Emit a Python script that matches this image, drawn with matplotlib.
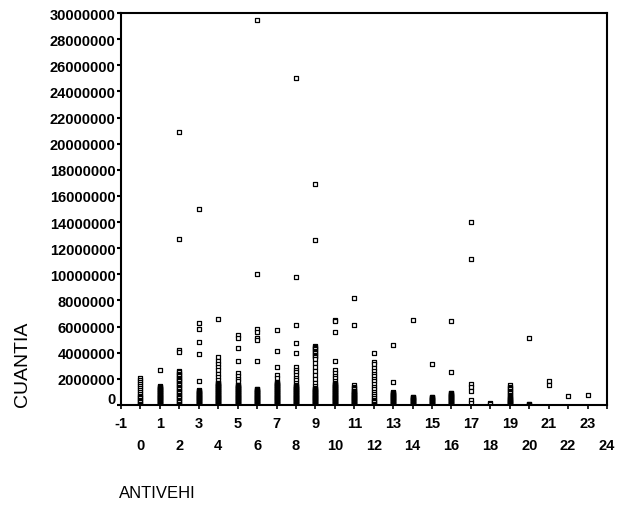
import matplotlib
matplotlib.use("Agg")
import matplotlib.pyplot as plt
import matplotlib.transforms as mtransforms

plt.rcParams['font.family'] = ['Liberation Sans', 'DejaVu Sans']

SCALE = 1_000_000  # values below are in millions of CUANTIA

cuantia_0 = [2.05, 1.9, 1.75, 1.6, 1.45, 1.3, 1.15, 1.0, 0.85, 0.7, 0.6, 0.5, 0.4, 0.3, 0.2, 0.1, 0.0]
cuantia_1 = [2.65, 1.45, 1.4, 1.35, 1.3, 1.25, 1.2, 1.15, 1.1, 1.05, 1.0, 0.95, 0.9, 0.85, 0.8, 0.75, 0.7,
             0.65, 0.6, 0.55, 0.5, 0.45, 0.4, 0.35, 0.3, 0.25, 0.2, 0.15, 0.1, 0.05, 0.0]
cuantia_2 = [20.9, 12.7, 4.2, 4.05, 2.6, 2.5, 2.4, 2.3, 2.2, 2.1, 2.0, 1.9, 1.8, 1.7, 1.6, 1.5, 1.4, 1.3,
             1.2, 1.1, 1.0, 0.9, 0.8, 0.7, 0.6, 0.5, 0.4, 0.3, 0.2, 0.1, 0.0]
cuantia_3 = [15.0, 6.3, 5.8, 4.8, 3.9, 1.8, 1.15, 1.1, 1.05, 1.0, 0.95, 0.9, 0.85, 0.8, 0.75, 0.7, 0.65,
             0.6, 0.55, 0.5, 0.45, 0.4, 0.35, 0.3, 0.25, 0.2, 0.15, 0.1, 0.05, 0.0]
cuantia_4 = [6.6, 3.65, 3.4, 3.15, 2.9, 2.65, 2.4, 2.15, 1.9, 1.7, 1.65, 1.6, 1.55, 1.5, 1.45, 1.4, 1.35,
             1.3, 1.25, 1.2, 1.15, 1.1, 1.05, 1.0, 0.95, 0.9, 0.85, 0.8, 0.75, 0.7, 0.65, 0.6, 0.55, 0.5,
             0.45, 0.4, 0.35, 0.3, 0.25, 0.2, 0.15, 0.1, 0.05, 0.0]
cuantia_5 = [5.35, 5.1, 4.4, 3.4, 2.45, 2.2, 2.0, 1.8, 1.55, 1.5, 1.45, 1.4, 1.35, 1.3, 1.25, 1.2, 1.15,
             1.1, 1.05, 1.0, 0.95, 0.9, 0.85, 0.8, 0.75, 0.7, 0.65, 0.6, 0.55, 0.5, 0.45, 0.4, 0.35, 0.3,
             0.25, 0.2, 0.15, 0.1, 0.05, 0.0]
cuantia_6 = [29.5, 10.0, 5.8, 5.6, 5.15, 5.0, 3.4, 1.25, 1.2, 1.15, 1.1, 1.05, 1.0, 0.95, 0.9, 0.85, 0.8,
             0.75, 0.7, 0.65, 0.6, 0.55, 0.5, 0.45, 0.4, 0.35, 0.3, 0.25, 0.2, 0.15, 0.1, 0.05, 0.0]
cuantia_7 = [5.75, 4.15, 2.9, 2.3, 2.1, 1.75, 1.7, 1.65, 1.6, 1.55, 1.5, 1.45, 1.4, 1.35, 1.3, 1.25, 1.2,
             1.15, 1.1, 1.05, 1.0, 0.95, 0.9, 0.85, 0.8, 0.75, 0.7, 0.65, 0.6, 0.55, 0.5, 0.45, 0.4, 0.35,
             0.3, 0.25, 0.2, 0.15, 0.1, 0.05, 0.0]
cuantia_8 = [25.0, 9.8, 6.1, 4.75, 4.0, 2.9, 2.7, 2.5, 2.3, 2.1, 1.9, 1.7, 1.5, 1.45, 1.4, 1.35, 1.3, 1.25,
             1.2, 1.15, 1.1, 1.05, 1.0, 0.95, 0.9, 0.85, 0.8, 0.75, 0.7, 0.65, 0.6, 0.55, 0.5, 0.45, 0.4,
             0.35, 0.3, 0.25, 0.2, 0.15, 0.1, 0.05, 0.0]
cuantia_9 = [16.9, 12.6, 4.55, 4.45, 4.35, 4.25, 4.15, 4.05, 3.95, 3.85, 3.75, 3.65, 3.55, 3.2, 2.9, 2.6,
             2.3, 2.0, 1.7, 1.45, 1.3, 1.25, 1.2, 1.15, 1.1, 1.05, 1.0, 0.95, 0.9, 0.85, 0.8, 0.75, 0.7,
             0.65, 0.6, 0.55, 0.5, 0.45, 0.4, 0.35, 0.3, 0.25, 0.2, 0.15, 0.1, 0.05, 0.0]
cuantia_10 = [6.5, 6.4, 5.55, 3.4, 2.65, 2.45, 2.25, 2.05, 1.85, 1.65, 1.6, 1.55, 1.5, 1.45, 1.4, 1.35,
              1.3, 1.25, 1.2, 1.15, 1.1, 1.05, 1.0, 0.95, 0.9, 0.85, 0.8, 0.75, 0.7, 0.65, 0.6, 0.55, 0.5,
              0.45, 0.4, 0.35, 0.3, 0.25, 0.2, 0.15, 0.1, 0.05, 0.0]
cuantia_11 = [8.2, 6.1, 1.5, 1.4, 1.3, 1.2, 1.1, 1.05, 1.0, 0.95, 0.9, 0.85, 0.8, 0.75, 0.7, 0.65, 0.6,
              0.55, 0.5, 0.45, 0.4, 0.35, 0.3, 0.25, 0.2, 0.15, 0.1, 0.05, 0.0]
cuantia_12 = [4.0, 3.3, 3.1, 2.85, 2.6, 2.4, 2.2, 2.0, 1.8, 1.6, 1.4, 1.2, 1.0, 0.85, 0.7, 0.55, 0.4, 0.3,
              0.2, 0.1, 0.0]
cuantia_13 = [4.6, 1.75, 1.0, 0.95, 0.9, 0.85, 0.8, 0.75, 0.7, 0.65, 0.6, 0.55, 0.5, 0.45, 0.4, 0.35,
              0.3, 0.25, 0.2, 0.15, 0.1, 0.05, 0.0]
cuantia_14 = [6.5, 0.65, 0.6, 0.55, 0.5, 0.45, 0.4, 0.35, 0.3, 0.25, 0.2, 0.15, 0.1, 0.05, 0.0]
cuantia_15 = [3.15, 0.65, 0.6, 0.55, 0.5, 0.45, 0.4, 0.35, 0.3, 0.25, 0.2, 0.15, 0.1, 0.05, 0.0]
cuantia_16 = [6.4, 2.5, 0.95, 0.9, 0.85, 0.8, 0.75, 0.7, 0.65, 0.6, 0.55, 0.5, 0.45, 0.4, 0.35, 0.3,
              0.25, 0.2, 0.15, 0.1, 0.05, 0.0]
cuantia_17 = [14.0, 11.2, 1.6, 1.4, 1.05, 0.35, 0.15]
cuantia_18 = [0.15, 0.05]
cuantia_19 = [1.5, 1.4, 1.3, 1.2, 1.1, 1.0, 0.9, 0.8, 0.7, 0.6, 0.5, 0.45, 0.4, 0.35, 0.3, 0.25, 0.2,
              0.15, 0.1, 0.05, 0.0]
cuantia_20 = [5.15, 0.1, 0.05, 0.0]
cuantia_21 = [1.85, 1.5]
cuantia_22 = [0.67]
cuantia_23 = [0.79]

antivehi = list(range(24))
columns = [cuantia_0, cuantia_1, cuantia_2, cuantia_3, cuantia_4, cuantia_5, cuantia_6, cuantia_7,
           cuantia_8, cuantia_9, cuantia_10, cuantia_11, cuantia_12, cuantia_13, cuantia_14, cuantia_15,
           cuantia_16, cuantia_17, cuantia_18, cuantia_19, cuantia_20, cuantia_21, cuantia_22, cuantia_23]

x_odd_ticks = list(range(-1, 24, 2))
x_even_ticks = list(range(0, 25, 2))
y_ticks = list(range(0, 30_000_001, 2_000_000))

fig = plt.figure(figsize=(6.17, 5.06), dpi=100)
ax = fig.add_axes([121 / 617, 1 - 406 / 506, (607 - 121) / 617, (406 - 14) / 506])

xs, ys = [], []
for xv, col in zip(antivehi, columns):
    for v in col:
        xs.append(xv)
        ys.append(v * SCALE)

ax.scatter(xs, ys, marker='s', s=11, facecolors='white', edgecolors='black', linewidths=0.9, zorder=3,
           clip_on=True)

ax.set_xlim(-1, 24)
ax.set_ylim(0, 30_000_000)

ax.set_xticks(x_odd_ticks)
ax.set_xticklabels([str(t) for t in x_odd_ticks])
ax.set_xticks(x_even_ticks, minor=True)
ax.set_xticklabels([str(t) for t in x_even_ticks], minor=True)
ax.set_yticks(y_ticks)
ax.set_yticklabels([str(t) for t in y_ticks])

ax.tick_params(axis='x', which='major', direction='out', length=3, width=1.2, pad=5, labelsize=10.5)
ax.tick_params(axis='x', which='minor', direction='out', length=3, width=1.2, pad=21, labelsize=10.5)
ax.tick_params(axis='y', direction='out', length=3, width=1.5, pad=1, labelsize=10.5)

for lbl in ax.get_xticklabels(which='both') + ax.get_yticklabels():
    lbl.set_fontweight('bold')

# the "0" label of the y axis sits slightly above its tick in the reference
zero_lbl = ax.get_yticklabels()[0]
zero_lbl.set_transform(zero_lbl.get_transform() +
                       mtransforms.ScaledTranslation(0, 7 / 100, fig.dpi_scale_trans))

for side in ['left', 'right', 'top', 'bottom']:
    ax.spines[side].set_linewidth(1.5)
    ax.spines[side].set_color('black')
    ax.spines[side].set_zorder(4)

fig.text(23 / 617, 1 - 364 / 506, 'CUANTIA', rotation=90, ha='center', va='center', fontsize=14)
fig.text(119 / 617, 1 - 494 / 506, 'ANTIVEHI', ha='left', va='center', fontsize=12)

fig.savefig('out.png', dpi=100)
